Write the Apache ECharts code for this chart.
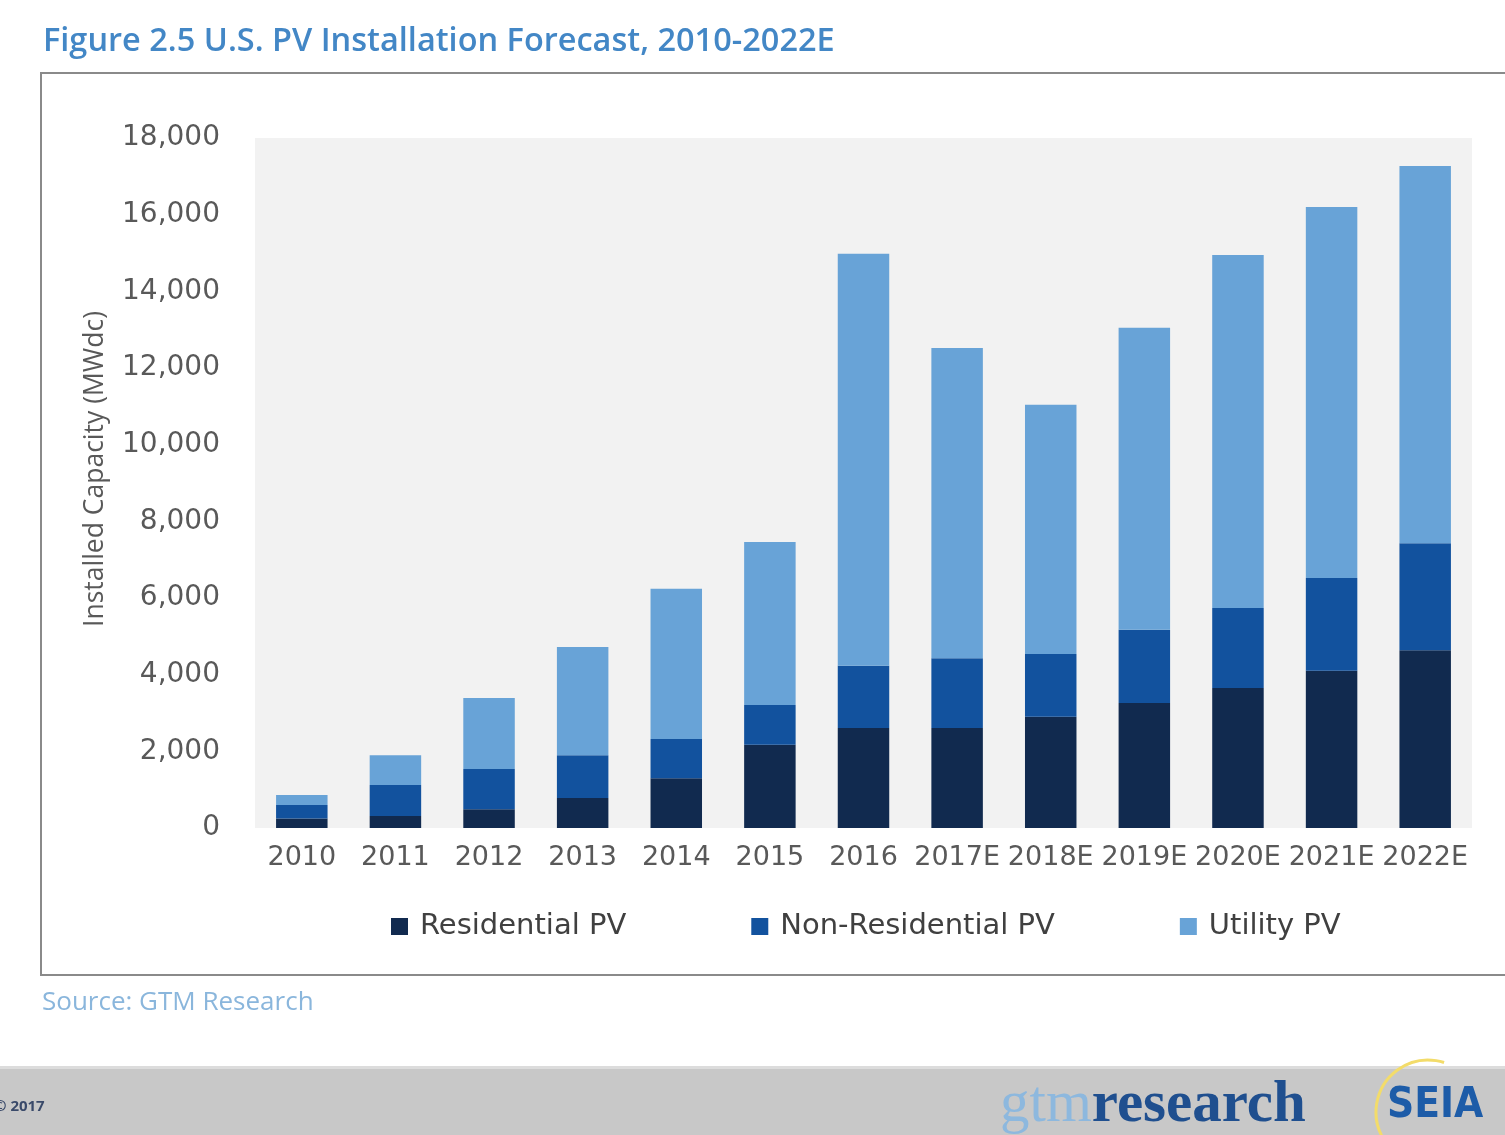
<!DOCTYPE html>
<html>
<head>
<meta charset="utf-8">
<script src="https://cdn.jsdelivr.net/npm/echarts@6/dist/echarts.min.js"></script>
<style>
  html, body { margin: 0; padding: 0; background: #fff; }
  #chart { width: 1505px; height: 1135px; }
</style>
</head>
<body>
<div id="chart"></div>
<script>
    // data (MWdc)
    var years = ['2010', '2011', '2012', '2013', '2014', '2015', '2016', '2017E', '2018E', '2019E', '2020E', '2021E', '2022E'];
    var residential = [250, 310, 490, 780, 1300, 2170, 2610, 2610, 2900, 3260, 3650, 4100, 4640];
    var nonResidential = [350, 810, 1050, 1120, 1020, 1040, 1620, 1820, 1640, 1910, 2090, 2420, 2790];
    var utility = [260, 780, 1850, 2820, 3920, 4250, 10750, 8090, 6500, 7880, 9210, 9680, 9840];

    var chart = echarts.init(document.getElementById('chart'));
    var axisFont = 'DejaVu Sans';

    var option = {
        backgroundColor: '#fff',
        animation: false,
        title: {
            text: 'Figure 2.5 U.S. PV Installation Forecast, 2010-2022E',
            left: 38,
            top: 20,
            textStyle: {
                color: '#4387c6',
                fontSize: 32.5,
                fontWeight: 600,
                fontFamily: 'Open Sans'
            }
        },
        grid: {
            left: 255,
            right: 33,
            top: 138,
            bottom: 307,
            show: true,
            backgroundColor: '#f2f2f2',
            borderWidth: 0
        },
        legend: {
            left: 386,
            top: 907,
            itemWidth: 17,
            itemHeight: 17,
            itemGap: 125,
            icon: 'rect',
            textStyle: {
                fontSize: 29,
                fontFamily: axisFont,
                color: '#404040',
                padding: [0, 0, 0, 7]
            },
            data: ['Residential PV', 'Non-Residential PV', 'Utility PV']
        },
        xAxis: {
            type: 'category',
            data: years,
            axisLine: { show: false },
            axisTick: { show: false },
            axisLabel: {
                interval: 0,
                margin: 16,
                fontSize: 27,
                fontFamily: axisFont,
                color: '#595959'
            }
        },
        yAxis: {
            type: 'value',
            min: 0,
            max: 18000,
            interval: 2000,
            name: 'Installed Capacity (MWdc)',
            nameLocation: 'middle',
            nameRotate: 90,
            nameGap: 146,
            nameTextStyle: {
                fontSize: 26.5,
                fontFamily: 'Open Sans',
                color: '#595959',
                padding: [0, 0, 0, 28]
            },
            axisLine: { show: false },
            axisTick: { show: false },
            splitLine: { show: false },
            axisLabel: {
                margin: 35,
                fontSize: 28,
                fontFamily: axisFont,
                color: '#595959',
                formatter: function (v) {
                    return v.toString().replace(/\B(?=(\d{3})+(?!\d))/g, ',');
                }
            }
        },
        series: [
            {
                name: 'Residential PV',
                type: 'bar',
                stack: 'pv',
                barCategoryGap: '45%',
                itemStyle: { color: '#112a4f' },
                data: residential
            },
            {
                name: 'Non-Residential PV',
                type: 'bar',
                stack: 'pv',
                itemStyle: { color: '#12529e' },
                data: nonResidential
            },
            {
                name: 'Utility PV',
                type: 'bar',
                stack: 'pv',
                itemStyle: { color: '#68a3d7' },
                data: utility
            }
        ],
        graphic: [
            // frame round the chart
            {
                type: 'rect',
                shape: { x: 41, y: 73, width: 1500, height: 902 },
                style: { fill: 'none', stroke: '#8a8a8a', lineWidth: 2 },
                z: 0
            },
            {
                type: 'text',
                left: 42,
                top: 990,
                style: {
                    text: 'Source: GTM Research',
                    fill: '#8ab6dc',
                    font: '26px "Open Sans"'
                }
            },
            // footer band
            {
                type: 'rect',
                shape: { x: 0, y: 1068, width: 1505, height: 67 },
                style: { fill: '#c8c8c8' }
            },
            {
                type: 'rect',
                shape: { x: 0, y: 1066, width: 1505, height: 3 },
                style: { fill: '#dcdcdc' }
            },
            {
                type: 'text',
                left: -6,
                top: 1099,
                style: {
                    text: '© 2017',
                    fill: '#3a4a6a',
                    font: 'bold 15px "Open Sans"'
                }
            },
            {
                type: 'text',
                left: 1000,
                top: 1076,
                style: {
                    rich: {
                        a: { fill: '#8db8de', font: '59px "Liberation Serif"' },
                        b: { fill: '#1f4f8f', font: 'bold 59px "Liberation Serif"' }
                    },
                    text: '{a|gtm}{b|research}'
                }
            },
            {
                type: 'arc',
                shape: { cx: 1428, cy: 1112, r: 52, startAngle: Math.PI * 0.55, endAngle: Math.PI * 1.6 },
                style: { fill: 'none', stroke: '#f3dc6a', lineWidth: 3 }
            },
            {
                type: 'text',
                left: 1387,
                top: 1085,
                style: {
                    text: 'SEIA',
                    fill: '#1d5ca8',
                    font: 'bold 42px "DejaVu Sans Condensed", "DejaVu Sans"'
                }
            }
        ]
    };

    chart.setOption(option);
    window.addEventListener('resize', function () {
        chart.resize();
    });
</script>
</body>
</html>
